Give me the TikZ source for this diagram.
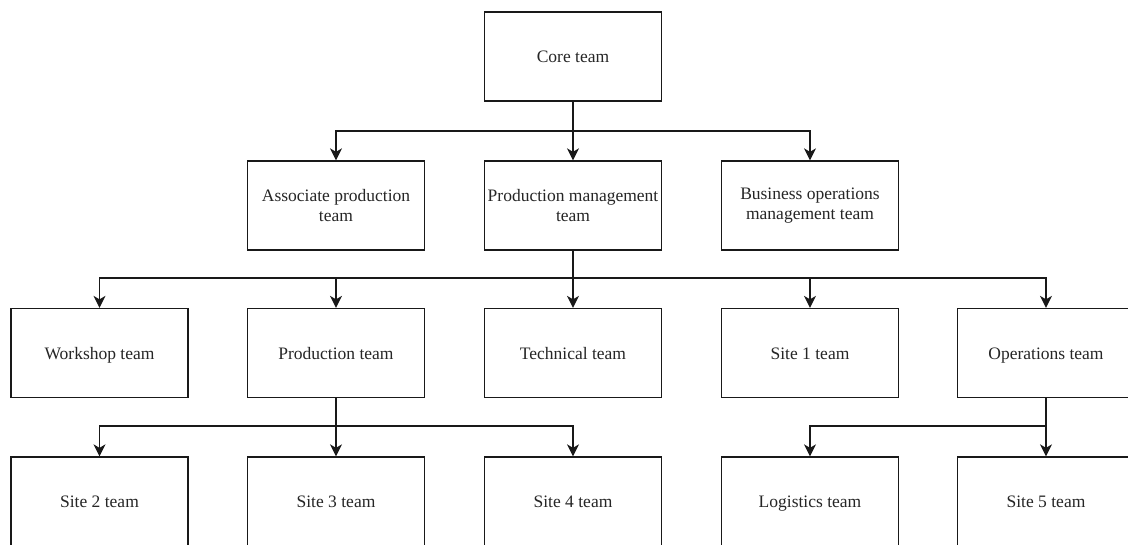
\documentclass[tikz,border=0pt]{standalone}
\usepackage{fontspec}
\setmainfont{Liberation Serif}
\usetikzlibrary{arrows.meta}
\tikzset{
  team/.style={draw=black!90, line width=1.3pt, fill=white,
    minimum width=177pt, minimum height=89pt, inner sep=0pt,
    align=center, text=black!85,
    font=\fontsize{17.5}{20}\selectfont},
  oneline/.style={team, text height=16pt, text depth=3.5pt},
  link/.style={draw=black!90, line width=1.3pt,
    -{Stealth[length=12pt,width=12pt,inset=3.5pt]}},
}
\begin{document}
\begin{tikzpicture}[x=1pt,y=-1pt]
\clip (0,0) rectangle (1128,545);
\fill[white] (0,0) rectangle (1128,545);

% top level
\node[oneline] (core) at (573,56.5) {Core team};

% second level
\node[team] (assoc) at (336,205.5) {Associate production\\team};
\node[team] (prodm) at (573,205.5) {Production management\\team};
\node[team] (bus)   at (810,205.5) {Business operations\\management team};

% third level
\node[oneline] (work)  at (99.5,353) {Workshop team};
\node[oneline] (prod)  at (336,353)  {Production team};
\node[oneline] (tech)  at (573,353)  {Technical team};
\node[oneline] (site1) at (810,353)  {Site 1 team};
\node[oneline] (ops)   at (1046,353) {Operations team};

% fourth level
\node[oneline] (site2) at (99.5,501.5) {Site 2 team};
\node[oneline] (site3) at (336,501.5)  {Site 3 team};
\node[oneline] (site4) at (573,501.5)  {Site 4 team};
\node[oneline] (logi)  at (810,501.5)  {Logistics team};
\node[oneline] (site5) at (1046,501.5) {Site 5 team};

% bus junctions
\coordinate (j1) at (573,131);
\coordinate (j2) at (573,278);
\coordinate (j3) at (336,426);
\coordinate (j4) at (1046,426);

% connectors
\foreach \t in {assoc,prodm,bus}
  \draw[link] (core.south) -- (j1) -| (\t.north);
\foreach \t in {work,prod,tech,site1,ops}
  \draw[link] (prodm.south) -- (j2) -| (\t.north);
\foreach \t in {site2,site3,site4}
  \draw[link] (prod.south) -- (j3) -| (\t.north);
\foreach \t in {logi,site5}
  \draw[link] (ops.south) -- (j4) -| (\t.north);
\end{tikzpicture}
\end{document}
